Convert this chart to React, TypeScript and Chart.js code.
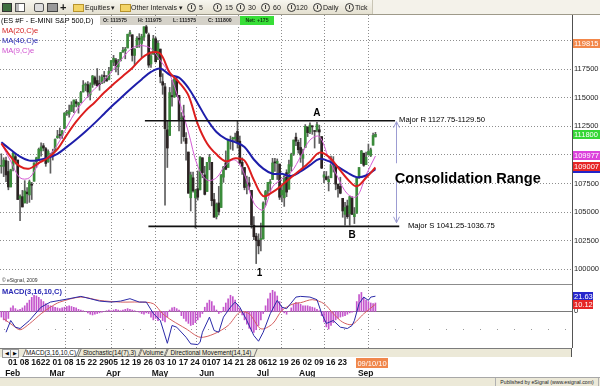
import React, { useEffect, useRef } from 'react';
import { Chart, registerables } from 'chart.js';

Chart.register(...registerables);

const FONT = '"Liberation Sans", Arial, Helvetica, sans-serif';

/* ---------------- data ---------------- */
const monthNames = ['Jan', 'Feb', 'Mar', 'Apr', 'May', 'Jun', 'Jul', 'Aug', 'Sep'];
const monthDays = [
  [26, 27, 28, 29],
  [1, 2, 3, 4, 5, 8, 9, 10, 11, 12, 16, 17, 18, 19, 22, 23, 24, 25, 26],
  [1, 2, 3, 4, 5, 8, 9, 10, 11, 12, 15, 16, 17, 18, 19, 22, 23, 24, 25, 26, 29, 30, 31],
  [1, 5, 6, 7, 8, 9, 12, 13, 14, 15, 16, 19, 20, 21, 22, 23, 26, 27, 28, 29, 30],
  [3, 4, 5, 6, 7, 10, 11, 12, 13, 14, 17, 18, 19, 20, 21, 24, 25, 26, 27, 28],
  [1, 2, 3, 4, 7, 8, 9, 10, 11, 14, 15, 16, 17, 18, 21, 22, 23, 24, 25, 28, 29, 30],
  [1, 2, 6, 7, 8, 9, 12, 13, 14, 15, 16, 19, 20, 21, 22, 23, 26, 27, 28, 29, 30],
  [2, 3, 4, 5, 6, 9, 10, 11, 12, 13, 16, 17, 18, 19, 20, 23, 24, 25, 26, 27, 30, 31],
  [1, 2, 3, 7, 8, 9, 10, 13, 14],
];

const opens = [
  1090, 1090, 1095, 1085.5,
  1072, 1088, 1098.5, 1095.5, 1062, 1063.5, 1058, 1067.5, 1065, 1074, 1077, 1094, 1097, 1103.5, 1108, 1105.5, 1094, 1099, 1101,
  1103.5, 1115, 1117.5, 1117, 1123, 1136.5, 1135.5, 1138, 1142, 1146.5, 1143.5, 1146, 1155, 1161, 1161.5, 1152.5, 1161.5, 1167.5, 1165, 1162.5, 1162.5, 1169, 1167,
  1166, 1173.5, 1181, 1183, 1177, 1182.5, 1190, 1191, 1193.5, 1206, 1205, 1187, 1194, 1202, 1197.5, 1203, 1212, 1205, 1179.5, 1188, 1201.5,
  1183.5, 1192.5, 1164, 1159.5, 1122, 1117, 1151.5, 1150.5, 1165, 1152, 1131.5, 1134, 1114.5, 1102.5, 1062.5, 1080, 1062.5, 1070.5, 1069.5, 1097.5,
  1082.5, 1068, 1094, 1093.5, 1061, 1046, 1058, 1054, 1080.5, 1093, 1089, 1112, 1114, 1114, 1120.5, 1112, 1093.5, 1089, 1073, 1075.5, 1069, 1038.5,
  1029, 1025.5, 1026, 1026.5, 1061, 1068.5, 1075, 1078.5, 1093.5, 1092.5, 1092, 1065, 1062.5, 1084.5, 1070, 1090, 1101, 1115.5, 1111, 1106.5, 1097,
  1106.5, 1124.5, 1120, 1125, 1121, 1121.5, 1122, 1116, 1080.5, 1081, 1076.5, 1080, 1091, 1091.5, 1074.5, 1072.5, 1062, 1048, 1055.5, 1048.5, 1062, 1046,
  1049, 1080, 1092.5, 1101.5, 1091.5, 1100, 1099.5, 1108.5, 1115.75,
];
const highs = [
  1101, 1097.5, 1098, 1094.5,
  1087.5, 1102.5, 1100.5, 1095.5, 1065, 1069, 1077.5, 1071.5, 1078, 1076, 1093, 1098, 1106, 1110.5, 1110, 1106.5, 1104.5, 1101.5, 1105,
  1114, 1121.5, 1123.5, 1121.5, 1137, 1139, 1143.5, 1146.5, 1148, 1148.5, 1146, 1155.5, 1165, 1163, 1164, 1163, 1169.5, 1169, 1175.5, 1169, 1170, 1173, 1169.5,
  1176.5, 1182.5, 1187, 1184.5, 1183.5, 1189.5, 1194, 1194, 1205.5, 1209, 1205, 1193, 1203.5, 1206, 1205.5, 1212, 1214.5, 1206.5, 1190, 1204.5, 1203,
  1200, 1192.5, 1171, 1162.5, 1130, 1159, 1165.5, 1168, 1168.5, 1152, 1137, 1143.5, 1119.5, 1102.5, 1085, 1085, 1070, 1086, 1098.5, 1097.5,
  1090, 1093.5, 1100.5, 1093.5, 1066.5, 1058, 1072.5, 1083, 1090, 1103.5, 1113.5, 1116.5, 1115.5, 1119, 1129.5, 1116.5, 1097.5, 1089, 1081.5, 1080.5, 1069, 1046,
  1031.5, 1031, 1040.5, 1059, 1069, 1076, 1078.5, 1097, 1097, 1096.5, 1092, 1072.5, 1082, 1087, 1095.5, 1101.5, 1113, 1119, 1113, 1114.5, 1105,
  1126.5, 1124.5, 1128, 1125.5, 1121, 1128.5, 1126, 1116, 1085.5, 1085.5, 1081.5, 1099, 1098.5, 1091.5, 1074.5, 1080.5, 1062, 1058.5, 1060.5, 1064, 1063.5, 1054,
  1080.5, 1089, 1104, 1101.5, 1102.5, 1109.5, 1106, 1119, 1119.75,
];
const lows = [
  1084, 1081, 1076.5, 1069.5,
  1072, 1086, 1092, 1061, 1042.5, 1054.5, 1058, 1057.5, 1058.5, 1061, 1077, 1089, 1095.5, 1099, 1103.5, 1090, 1093.5, 1084, 1095.5,
  1103.5, 1114.5, 1114.5, 1114.5, 1123, 1134.5, 1133, 1138, 1137, 1142, 1136.5, 1145.5, 1155, 1156, 1150.5, 1148, 1159, 1161, 1160, 1156.5, 1162.5, 1163, 1164.5,
  1165.5, 1173.5, 1178, 1172.5, 1170, 1182, 1189.5, 1184, 1193.5, 1203.5, 1182, 1178.5, 1194, 1194, 1185, 1200, 1206, 1176.5, 1176.5, 1188, 1181,
  1183.5, 1163, 1153, 1056, 1089, 1117, 1142.5, 1150.5, 1151, 1121, 1110, 1112, 1095.5, 1066.5, 1051, 1067.5, 1036, 1060.5, 1069.5, 1080,
  1065, 1068, 1087, 1055.5, 1045.5, 1044, 1047.5, 1054, 1076, 1087, 1089, 1105, 1104, 1112, 1106, 1092, 1083, 1069.5, 1066, 1069.5, 1036, 1026,
  1005, 1013.5, 1016, 1026.5, 1056, 1066, 1068, 1078.5, 1085.5, 1078.5, 1061, 1059, 1055, 1063.5, 1070, 1086, 1099.5, 1108, 1101.5, 1093.5, 1087,
  1106.5, 1116, 1118.5, 1118, 1106, 1120, 1110, 1088, 1075.5, 1078, 1068.5, 1080, 1085, 1069.5, 1063, 1066, 1045.5, 1038.5, 1044.5, 1038.5, 1048, 1040,
  1049, 1079.5, 1092.5, 1090, 1091.5, 1100, 1098.5, 1108.5, 1115.75,
];
const closes = [
  1090, 1095.5, 1082.5, 1072,
  1087, 1101.5, 1095.5, 1061, 1064, 1054.5, 1068.5, 1066, 1076.5, 1073.5, 1093, 1097.5, 1105, 1107, 1106, 1092.5, 1103, 1101, 1102.5,
  1113.5, 1116.5, 1117, 1121, 1136.5, 1136.5, 1138.5, 1143.5, 1148, 1145, 1145.5, 1154.5, 1161, 1161, 1155, 1161, 1169, 1162.5, 1160.5, 1161.5, 1168, 1168.5, 1164.5,
  1173, 1182.5, 1184.5, 1177.5, 1181.5, 1189.5, 1191.5, 1192.5, 1205.5, 1206.5, 1187, 1192.5, 1202, 1201, 1203.5, 1212, 1207, 1178.5, 1186.5, 1201.5, 1181.5,
  1197.5, 1168.5, 1161, 1123, 1106, 1154.5, 1151, 1166.5, 1152.5, 1130.5, 1132, 1116, 1110, 1066.5, 1082.5, 1068.5, 1069, 1063, 1098, 1084.5,
  1065.5, 1093.5, 1098, 1060, 1045.5, 1057, 1050.5, 1082, 1089.5, 1087.5, 1113, 1112.5, 1114, 1115.5, 1111, 1093, 1090, 1071.5, 1074.5, 1072.5, 1039, 1028.5,
  1025, 1020.5, 1026, 1058, 1068, 1076, 1076.5, 1093, 1093, 1094.5, 1063, 1069, 1081.5, 1067.5, 1091.5, 1100.5, 1113, 1112, 1104.5, 1100, 1100.5,
  1125, 1119.5, 1126, 1124.5, 1120.5, 1126.5, 1120, 1088.5, 1082.5, 1078.5, 1078.5, 1091.5, 1093, 1074.5, 1070.5, 1066.5, 1051, 1054, 1046, 1063.5, 1048, 1048.5,
  1079.5, 1089, 1103.5, 1091, 1098, 1103, 1104.5, 1117, 1118,
];

// moving averages (bar index, value)
const maIdx = [0, 4, 8, 12, 16, 20, 24, 28, 32, 36, 40, 44, 48, 52, 56, 60, 64, 68, 72, 76, 80, 84, 88, 92, 96, 100, 104, 108, 112, 116, 120, 124, 128, 132, 136, 140, 144, 148, 152, 156, 160];
const ma9 = [1110, 1094.5, 1080, 1080, 1092, 1098.5, 1109, 1124.5, 1138.5, 1149, 1158, 1165, 1175, 1185, 1193.5, 1195.5, 1193, 1182.5, 1170.5, 1147.5, 1120, 1090, 1078, 1080, 1091.5, 1095.5, 1083, 1058, 1052, 1072, 1079, 1085, 1098.5, 1113, 1116, 1097, 1080, 1066, 1063.5, 1082.5, 1099];
const ma20 = [1110, 1098.5, 1090, 1088, 1093, 1097.5, 1105, 1117.5, 1129, 1138.5, 1146, 1154.5, 1162, 1169, 1176, 1184.5, 1189.5, 1188.5, 1172, 1163.5, 1152, 1127, 1110, 1100.5, 1094.5, 1097, 1095, 1078, 1064, 1067.5, 1073.5, 1080.5, 1087, 1094, 1102, 1098.5, 1089, 1079, 1072.5, 1080, 1089];
const ma40 = [1111, 1104.5, 1098.5, 1095, 1095.5, 1097.5, 1101, 1107, 1113.5, 1120.5, 1128, 1136, 1144, 1151.5, 1159, 1166, 1172.5, 1175.5, 1170, 1167.5, 1158.5, 1145, 1131, 1120, 1114, 1111.2, 1107, 1096, 1088, 1083.5, 1083.5, 1081.5, 1085.5, 1091, 1096.5, 1094.5, 1089.5, 1084.5, 1080.5, 1082, 1087.5];

// MACD(3,16,10)
const macdIdx = [2, 4, 6, 8, 12, 17, 21, 25, 29, 34, 38, 42, 47, 51, 55, 59, 62, 65, 68, 71, 73, 75, 79, 81, 84, 85, 86, 89, 91, 93, 95, 98, 100, 102, 105, 108, 110, 112, 115, 118, 120, 122, 126, 128, 132, 135, 137, 139, 142, 145, 148, 150, 151, 153, 155, 157, 158, 160];
const macdVals = [-29.6, -12.9, -22.4, -24.3, -12.9, 6.1, 13.3, 15.7, 18.1, 21.4, 18.1, 14.7, 13.3, 14.7, 18.1, 13.3, 13.3, -2.9, -12.9, -45.3, -20, -22.4, -36.7, -46.1, -47.1, -43.9, -29.6, -8.1, -27.1, -29.6, -8.1, 6.1, 13.3, 6.1, -12.9, -34.3, -42.4, -29.6, -3.3, 15.7, 6.1, 3.9, 20.4, 21.4, 20.4, 16.7, -2.9, -17.1, -12.9, -22.4, -24.3, -20, -12.9, 11, 20.4, 15.7, 20.4, 21.63];
const signalIdx = [1, 5, 8, 12, 17, 21, 25, 34, 42, 51, 59, 65, 69, 73, 79, 85, 91, 97, 102, 106, 111, 116, 120, 125, 128, 133, 138, 142, 146, 150, 155, 160];
const signalVals = [-10.4, -20, -26.1, -17.6, -3.3, 6.1, 13.3, 20.4, 15.7, 13.3, 13.3, 11, -3.3, -12.9, -24.7, -36.7, -31.9, -20, -1, -3.3, -24.7, -17.6, 1.4, 11, 12.4, 16.7, 11, -3.3, -15.3, -18.6, -3.3, 10.12];
const histVals = [
  -8, -12, -14, -10,
  5, 8, 4, 2, 3, 5,
  8, 12, 16, 20, 23, 22, 20, 17, 14, 11, 9,
  8, 7, 6, 5, 4, 5, 6, 7,
  8, 7, 6, 5, 3, 2, 1, 0,
  -2, -4, -5, -4, -3, -2, -1, 0, 1,
  2, 1, 2, 3, 2, 1, 2, 3, 4, 3, 2, 1, 0,
  -1, -3, -4, -2, -3,
  -8, -12, -10, -13, -9,
  -13, -15, -8, 2,
  5, 6, 4, 2,
  -6, -10, -14, -17, -20, -19, -16, -12, -8, -3,
  6, 12, 16, 14, 8, 2,
  -3, -1,
  6, 12, 18, 23, 21, 16, 10, 4,
  -5, -12, -18, -24, -28, -30, -26, -20, -12,
  -3, 8, 18, 26, 30, 28, 22, 14, 6,
  -2, -4, 0,
  5, 10, 13, 12, 10, 8, 8,
  8, 7, 6, 5, 3, 1,
  -6, -15, -22, -25, -20, -16, -12, -10, -8, -7, -6,
  -4, -2, -1, 0,
  14, 24, 27, 20, 16, 14, 12, 11, 12,
];

const weekTicks: [string, number][] = [
  ['Feb', 1], ['Feb', 8], ['Feb', 16], ['Feb', 22],
  ['Mar', 1], ['Mar', 8], ['Mar', 15], ['Mar', 22], ['Mar', 29],
  ['Apr', 5], ['Apr', 12], ['Apr', 19], ['Apr', 26],
  ['May', 3], ['May', 10], ['May', 17], ['May', 24],
  ['Jun', 1], ['Jun', 7], ['Jun', 14], ['Jun', 21], ['Jun', 28],
  ['Jul', 6], ['Jul', 12], ['Jul', 19], ['Jul', 26],
  ['Aug', 2], ['Aug', 9], ['Aug', 16], ['Aug', 23],
  ['Sep', 7],
];
const priceTicks = [1000, 1025, 1050, 1075, 1100, 1125, 1150, 1175, 1200];

const priceTags = [
  { value: 1198.15, text: '119815', bg: '#f2874a' },
  { value: 1118.0, text: '111800', bg: '#35d635' },
  { value: 1088.5, text: '108852', bg: '#2424c8' },
  { value: 1099.77, text: '109977', bg: '#dc42dc' },
  { value: 1090.07, text: '109007', bg: '#e62626' },
];
const macdTags = [
  { value: 21.63, text: '21.63', bg: '#2626cc' },
  { value: 10.12, text: '10.12', bg: '#e62626' },
];
const headerQuote = [['O: 111575', 103], ['H: 111975', 138], ['L: 111575', 173], ['C: 111800', 208]] as [string, number][];

/* ------------- axis geometry ------------- */
const X_MIN = -0.58;
const X_MAX = 244.08;
const P_MIN = 987.15;
const P_MAX = 1222.3;
const M_MIN = -52;
const M_MAX = 39;

/* ------------- derived tables ------------- */
const dates: { m: string; d: number }[] = [];
monthDays.forEach((days, k) => days.forEach((d) => dates.push({ m: monthNames[k], d })));
const idxOf = (m: string, d: number) => dates.findIndex((t) => t.m === m && t.d === d);
const monthStarts = monthNames.slice(2).map((m) => dates.findIndex((t) => t.m === m));
const tickInfo = weekTicks.map(([m, d], k) => ({
  value: idxOf(m, d),
  lines: k === 0 || weekTicks[k - 1][0] !== m ? [String(d).padStart(2, '0'), m] : [String(d).padStart(2, '0')],
}));

const UP = '#3b8c3b';
const DOWN = '#2b2323';
const WICK = '#5e5e5e';

/* ------------- annotations ------------- */
const RES_LINE = { price: 1129.8, from: 61.4, to: 168.4 };
const SUP_LINE = { price: 1037.5, from: 62.9, to: 170.2 };
const ARROW = { idx: 168.8, top: 1129, bottom: 1040.7, gapTop: 1092.7, gapBottom: 1076.6 };
const NOTES = [
  { text: 'A', idx: 134.9, price: 1136.6, font: `bold 10px ${FONT}`, align: 'center' },
  { text: 'B', idx: 150, price: 1029.7, font: `bold 10px ${FONT}`, align: 'center' },
  { text: '1', idx: 110.4, price: 996.8, font: `bold 10px ${FONT}`, align: 'center' },
  { text: 'Major R 1127.75-1129.50', idx: 170.1, price: 1130.2, font: `7.7px ${FONT}`, align: 'left' },
  { text: 'Major S 1041.25-1036.75', idx: 173.9, price: 1038.1, font: `7.7px ${FONT}`, align: 'left' },
  { text: 'Consolidation Range', idx: 168.3, price: 1079.3, font: `bold 14.6px ${FONT}`, align: 'left' },
];
const DATE_TAG = { idx: 158.7, text: '09/10/10' };

const noPad = (s: any) => {
  s.paddingLeft = 0;
  s.paddingRight = 0;
  s.paddingTop = 0;
  s.paddingBottom = 0;
};

const mainOverlay = {
  id: 'mainOverlay',
  afterDatasetsDraw(chart: any) {
    const { ctx } = chart;
    const xs = chart.scales.x;
    const ys = chart.scales.y;
    const px = (i: number) => xs.getPixelForValue(i);
    const py = (p: number) => ys.getPixelForValue(p);
    ctx.save();
    const ax = Math.round(px(ARROW.idx)) + 0.5;
    const top = py(ARROW.top);
    const bot = py(ARROW.bottom);
    ctx.strokeStyle = '#9c9cd2';
    ctx.lineWidth = 1;
    ctx.beginPath();
    ctx.moveTo(ax, top);
    ctx.lineTo(ax, py(ARROW.gapTop));
    ctx.moveTo(ax, py(ARROW.gapBottom));
    ctx.lineTo(ax, bot);
    ctx.moveTo(ax - 3, top + 6);
    ctx.lineTo(ax, top);
    ctx.lineTo(ax + 3, top + 6);
    ctx.moveTo(ax - 3, bot - 6);
    ctx.lineTo(ax, bot);
    ctx.lineTo(ax + 3, bot - 6);
    ctx.stroke();
    ctx.fillStyle = '#000';
    ctx.textBaseline = 'middle';
    for (const n of NOTES) {
      ctx.font = n.font;
      ctx.textAlign = n.align;
      ctx.fillText(n.text, px(n.idx), py(n.price));
    }
    ctx.restore();
  },
  afterDraw(chart: any) {
    const { ctx, chartArea } = chart;
    const ys = chart.scales.y;
    ctx.save();
    ctx.font = `7.5px ${FONT}`;
    ctx.textBaseline = 'middle';
    ctx.textAlign = 'left';
    for (const t of priceTags) {
      const y = Math.round(ys.getPixelForValue(t.value));
      ctx.fillStyle = t.bg;
      ctx.fillRect(chartArea.right + 1, y - 4, 28, 9);
      ctx.fillStyle = '#fff';
      ctx.fillText(t.text, chartArea.right + 2, y + 0.5);
    }
    ctx.restore();
  },
};

const macdOverlay = {
  id: 'macdOverlay',
  beforeDatasetsDraw(chart: any) {
    const { ctx, chartArea } = chart;
    const ys = chart.scales.y;
    ctx.save();
    const z = Math.round(ys.getPixelForValue(0)) + 0.5;
    ctx.strokeStyle = '#7a7a7a';
    ctx.lineWidth = 1;
    ctx.beginPath();
    ctx.moveTo(chartArea.left, z);
    ctx.lineTo(chartArea.right, z);
    ctx.stroke();
    const g = Math.round(ys.getPixelForValue(-25)) + 0.5;
    ctx.strokeStyle = '#9a9a9a';
    ctx.setLineDash([1, 16]);
    ctx.beginPath();
    ctx.moveTo(chartArea.left + 4, g);
    ctx.lineTo(chartArea.right, g);
    ctx.stroke();
    ctx.restore();
  },
  afterDraw(chart: any) {
    const { ctx, chartArea } = chart;
    const ys = chart.scales.y;
    const xs = chart.scales.x;
    ctx.save();
    ctx.strokeStyle = '#8c8c8c';
    ctx.lineWidth = 1;
    ctx.beginPath();
    ctx.moveTo(chartArea.left, chartArea.top + 0.5);
    ctx.lineTo(chartArea.right, chartArea.top + 0.5);
    ctx.stroke();
    ctx.strokeStyle = '#555';
    ctx.beginPath();
    ctx.moveTo(chartArea.right + 0.5, chartArea.top);
    ctx.lineTo(chartArea.right + 0.5, chartArea.bottom);
    ctx.stroke();
    ctx.font = `7.5px ${FONT}`;
    ctx.textBaseline = 'middle';
    ctx.textAlign = 'left';
    for (const t of macdTags) {
      const y = Math.round(ys.getPixelForValue(t.value));
      ctx.fillStyle = t.bg;
      ctx.fillRect(chartArea.right + 1, y - 4, 20, 9);
      ctx.fillStyle = '#fff';
      ctx.fillText(t.text, chartArea.right + 2, y + 0.5);
    }
    const cx = Math.round(xs.getPixelForValue(DATE_TAG.idx));
    ctx.fillStyle = '#f0874c';
    ctx.fillRect(cx - 16, chartArea.bottom + 10, 32, 10);
    ctx.fillStyle = '#fff';
    ctx.textAlign = 'center';
    ctx.fillText(DATE_TAG.text, cx, chartArea.bottom + 15.5);
    ctx.restore();
  },
};

function monthGridAxis() {
  return {
    type: 'linear',
    position: 'top',
    min: X_MIN,
    max: X_MAX,
    afterBuildTicks: (s: any) => {
      s.ticks = monthStarts.map((v) => ({ value: v }));
    },
    afterFit: (s: any) => {
      s.height = 0;
      noPad(s);
    },
    ticks: { display: false },
    grid: { color: '#8e8e8e', lineWidth: 1, drawTicks: false },
    border: { display: false, dash: [1, 2] },
  };
}

function buildMainConfig(): any {
  const idx = closes.map((_, i) => i);
  const bodies = idx.map((i) => ({ x: i, y: [Math.min(opens[i], closes[i]), Math.max(opens[i], closes[i])] }));
  const wicks = idx.map((i) => ({ x: i, y: [lows[i], highs[i]] }));
  const bodyColors = idx.map((i) => (closes[i] >= opens[i] ? UP : DOWN));
  const line = (vals: number[], color: string, width: number, order: number) => ({
    type: 'line',
    data: maIdx.map((x, k) => ({ x, y: vals[k] })),
    borderColor: color,
    borderWidth: width,
    pointRadius: 0,
    tension: 0.35,
    order,
  });
  return {
    type: 'bar',
    data: {
      datasets: [
        { type: 'line', data: [{ x: RES_LINE.from, y: RES_LINE.price }, { x: RES_LINE.to, y: RES_LINE.price }], borderColor: '#111', borderWidth: 1.6, pointRadius: 0, order: 0 },
        { type: 'line', data: [{ x: SUP_LINE.from, y: SUP_LINE.price }, { x: SUP_LINE.to, y: SUP_LINE.price }], borderColor: '#111', borderWidth: 1.6, pointRadius: 0, order: 0 },
        line(ma20, '#dc1e1e', 2, 1),
        line(ma40, '#1e1eaa', 2, 2),
        line(ma9, '#d45ad4', 1, 3),
        { type: 'bar', data: bodies, backgroundColor: bodyColors, barThickness: 2, grouped: false, minBarLength: 1, order: 4 },
        { type: 'bar', data: wicks, backgroundColor: WICK, barThickness: 1, grouped: false, order: 5 },
      ],
    },
    options: {
      animation: false,
      responsive: false,
      maintainAspectRatio: false,
      devicePixelRatio: 1,
      events: [],
      layout: { padding: 0, autoPadding: false },
      plugins: { legend: { display: false }, tooltip: { enabled: false }, title: { display: false } },
      scales: {
        x: { type: 'linear', min: X_MIN, max: X_MAX, display: false, offset: false },
        gx: monthGridAxis(),
        y: {
          type: 'linear',
          position: 'right',
          min: P_MIN,
          max: P_MAX,
          afterBuildTicks: (s: any) => {
            s.ticks = priceTicks.map((v) => ({ value: v }));
          },
          afterFit: (s: any) => {
            s.width = 28;
            noPad(s);
          },
          ticks: {
            padding: 2,
            color: '#1e1e1e',
            font: { family: FONT, size: 7.5 },
            callback: (v: number) => (v === 1200 ? '' : String(Math.round(v * 100))),
          },
          grid: { color: '#8e8e8e', lineWidth: 1, drawTicks: false },
          border: { display: true, color: '#505050', dash: [1, 2] },
        },
      },
    },
    plugins: [mainOverlay],
  };
}

function buildMacdConfig(): any {
  return {
    type: 'bar',
    data: {
      datasets: [
        { type: 'line', data: macdIdx.map((x, k) => ({ x, y: macdVals[k] })), borderColor: '#2a2aa8', borderWidth: 1, pointRadius: 0, tension: 0, order: 0 },
        { type: 'line', data: signalIdx.map((x, k) => ({ x, y: signalVals[k] })), borderColor: '#d46060', borderWidth: 1, pointRadius: 0, tension: 0.3, order: 1 },
        { type: 'bar', data: histVals.map((v, i) => ({ x: i, y: v })), backgroundColor: '#c455cc', barThickness: 1, grouped: false, order: 2 },
      ],
    },
    options: {
      animation: false,
      responsive: false,
      maintainAspectRatio: false,
      devicePixelRatio: 1,
      events: [],
      layout: { padding: 0, autoPadding: false },
      plugins: { legend: { display: false }, tooltip: { enabled: false }, title: { display: false } },
      scales: {
        x: {
          type: 'linear',
          position: 'bottom',
          min: X_MIN,
          max: X_MAX,
          offset: false,
          afterBuildTicks: (s: any) => {
            s.ticks = tickInfo.map((t) => ({ value: t.value }));
          },
          afterFit: (s: any) => {
            s.height = 29;
            noPad(s);
          },
          ticks: {
            autoSkip: false,
            maxRotation: 0,
            minRotation: 0,
            padding: 10,
            labelOffset: 2,
            color: '#151515',
            font: { family: FONT, size: 8.5, weight: 'bold', lineHeight: 1.2 },
            callback: (v: number) => {
              const t = tickInfo.find((q) => q.value === v);
              return t ? t.lines : '';
            },
          },
          grid: { display: false, drawTicks: false },
          border: { display: false },
        },
        gx: monthGridAxis(),
        y: {
          type: 'linear',
          position: 'right',
          min: M_MIN,
          max: M_MAX,
          afterBuildTicks: (s: any) => {
            s.ticks = [{ value: 0 }];
          },
          afterFit: (s: any) => {
            s.width = 28;
            noPad(s);
          },
          ticks: { padding: 2, color: '#1e1e1e', font: { family: FONT, size: 7.5 }, callback: () => '0' },
          grid: { display: false, drawTicks: false },
          border: { display: false },
        },
      },
    },
    plugins: [macdOverlay],
  };
}

/* ------------- chrome ------------- */
const abs = (left: number, top: number, extra: any = {}) => ({ position: 'absolute' as const, left, top, ...extra });

function CircleI({ left }: { left: number }) {
  return (
    <span style={abs(left, 3, { width: 7, height: 7, border: '1px solid #333', borderRadius: '50%', fontSize: 6, lineHeight: '7px', textAlign: 'center', fontWeight: 'bold' })}>I</span>
  );
}

function Toolbar() {
  const txt = (left: number, t: string) => <span style={abs(left, 3, { fontSize: 7, lineHeight: '9px', whiteSpace: 'nowrap' })}>{t}</span>;
  const folder = (left: number) => <span style={abs(left, 4, { width: 9, height: 6, background: '#f3d466', border: '1px solid #b8942c' })} />;
  return (
    <div style={abs(0, 0, { width: 600, height: 15, background: 'linear-gradient(#f7f6ef,#e4e0d0)', borderBottom: '1px solid #9e9a8a', boxSizing: 'border-box', color: '#1a1a1a' })}>
      <div style={abs(372, 0, { width: 228, height: 14, background: '#f4f2ea', borderLeft: '1px solid #c9c5b5' })} />
      <span style={abs(2, 3, { width: 8, height: 7, background: '#3f6f3f', border: '1px solid #333' })} />
      <span style={abs(15, 3, { width: 8, height: 7, background: '#fff', border: '1px solid #555', boxShadow: 'inset 3px 0 0 #bbb' })} />
      <span style={abs(34, 3, { width: 8, height: 7, background: '#ddd', border: '1px solid #555', borderRadius: 2 })} />
      <span style={abs(47, 3, { width: 9, height: 7, background: '#999', border: '1px solid #444' })} />
      <span style={abs(60, 0, { fontSize: 11, fontWeight: 'bold', lineHeight: '14px' })}>+</span>
      {folder(73)}
      {txt(85, 'Equities')}
      {txt(111, '▾')}
      {folder(120)}
      {txt(131, 'Other Intervals')}
      {txt(179, '▾')}
      <CircleI left={187} />
      {txt(199, '5')}
      <CircleI left={213} />
      {txt(225, '15')}
      <CircleI left={236} />
      {txt(248, '30')}
      <CircleI left={261} />
      {txt(273, '60')}
      <CircleI left={287} />
      {txt(296, '120')}
      <CircleI left={313} />
      {txt(323, 'Daily')}
      <CircleI left={345} />
      {txt(355, 'Tick')}
    </div>
  );
}

function TitleRow() {
  return (
    <>
      <div style={abs(1, 16, { fontSize: 7.3, lineHeight: '9px', color: '#000', whiteSpace: 'nowrap' })}>{'(ES #F - E-MINI S&P 500,D)'}</div>
      <div style={abs(100, 16, { width: 140, height: 9, background: '#d5d2c9' })} />
      {headerQuote.map(([t, left]) => (
        <span key={t} style={abs(left, 16, { fontSize: 5.2, fontWeight: 'bold', lineHeight: '9px', color: '#222', whiteSpace: 'nowrap' })}>{t}</span>
      ))}
      <div style={abs(240, 16, { width: 34, height: 9, background: '#38de38', fontSize: 5.2, fontWeight: 'bold', lineHeight: '9px', textAlign: 'center', color: '#124012' })}>Net: +175</div>
      <div style={abs(2, 26, { fontSize: 7.5, lineHeight: '9px', color: '#d42020' })}>MA(20,C)e</div>
      <div style={abs(2, 36, { fontSize: 7.5, lineHeight: '9px', color: '#2020b0' })}>MA(40,C)e</div>
      <div style={abs(2, 46, { fontSize: 7.5, lineHeight: '9px', color: '#d050d0' })}>MA(9,C)e</div>
      <div style={abs(2, 277, { fontSize: 5, lineHeight: '6px', color: '#333' })}>© eSignal, 2009</div>
      <div style={abs(2, 287, { fontSize: 7.5, fontWeight: 'bold', lineHeight: '9px', color: '#2a2ab4' })}>MACD(3,16,10,C)</div>
    </>
  );
}

function TabBar() {
  const tab = (left: number, width: number, label: string, active: boolean) => (
    <div key={label} style={abs(left, 0, { width, height: 8, transform: 'skewX(-22deg)', border: '1px solid #777', borderTop: 'none', background: active ? '#fff' : '#ece9d8', boxSizing: 'border-box' })}>
      <div style={{ transform: 'skewX(22deg)', fontSize: 6.3, lineHeight: '8px', textAlign: 'center', whiteSpace: 'nowrap', color: '#111' }}>{label}</div>
    </div>
  );
  return (
    <div style={abs(0, 348, { width: 572, height: 9, background: '#ece9d8', borderTop: '1px solid #7c7c7c', boxSizing: 'border-box' })}>
      <div style={abs(2, 0, { width: 7, height: 7, border: '1px solid #999', background: '#f4f4f4', fontSize: 5, lineHeight: '7px', textAlign: 'center' })}>◀</div>
      <div style={abs(10, 0, { width: 7, height: 7, border: '1px solid #999', background: '#f4f4f4', fontSize: 5, lineHeight: '7px', textAlign: 'center' })}>▶</div>
      {tab(24, 54, 'MACD(3,16,10,C)', true)}
      {tab(79, 61, 'Stochastic(14(7),3)', false)}
      {tab(140, 26, 'Volume', false)}
      {tab(166, 90, 'Directional Movement(14,14)', false)}
      <div style={abs(571, -1, { width: 1, height: 9, background: '#555' })} />
    </div>
  );
}

function Footer() {
  return (
    <div style={abs(0, 377, { width: 600, height: 9, background: '#ece9d8', borderTop: '1px solid #a8a8a8', boxSizing: 'border-box' })}>
      <div style={abs(495, 0, { width: 102, height: 8, borderLeft: '1px solid #b0b0b0', borderRight: '1px solid #b0b0b0', fontSize: 5.2, lineHeight: '8px', textAlign: 'center', color: '#222', whiteSpace: 'nowrap', overflow: 'hidden' })}>
        Published by eSignal (www.esignal.com)
      </div>
    </div>
  );
}

export default function App() {
  const mainRef = useRef<HTMLCanvasElement>(null);
  const macdRef = useRef<HTMLCanvasElement>(null);

  useEffect(() => {
    document.body.style.margin = '0';
    const main = new Chart(mainRef.current as HTMLCanvasElement, buildMainConfig());
    const macd = new Chart(macdRef.current as HTMLCanvasElement, buildMacdConfig());
    return () => {
      main.destroy();
      macd.destroy();
    };
  }, []);

  return (
    <div style={{ position: 'relative', width: 600, height: 386, overflow: 'hidden', background: '#fff', fontFamily: FONT }}>
      <canvas ref={mainRef} width={600} height={269} style={{ position: 'absolute', left: 0, top: 15, width: 600, height: 269 }} />
      <canvas ref={macdRef} width={600} height={93} style={{ position: 'absolute', left: 0, top: 284, width: 600, height: 93 }} />
      <Toolbar />
      <TitleRow />
      <TabBar />
      <Footer />
    </div>
  );
}
